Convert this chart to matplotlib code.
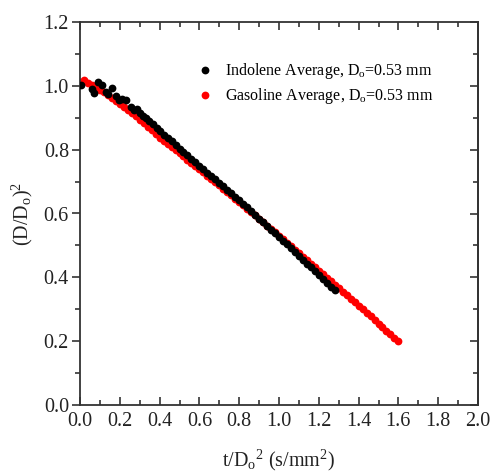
import matplotlib
matplotlib.use("Agg")
import matplotlib.pyplot as plt
from matplotlib.ticker import MultipleLocator

plt.rcParams['font.family'] = ['Liberation Serif', 'DejaVu Serif']
plt.rcParams['mathtext.fontset'] = 'custom'
plt.rcParams['mathtext.rm'] = 'Liberation Serif'
plt.rcParams['mathtext.it'] = 'Liberation Serif:italic'

# Gasoline average (red)
gas_x = [0.00, 0.02, 0.04, 0.06, 0.08, 0.10, 0.12, 0.14, 0.16, 0.18,
         0.20, 0.22, 0.24, 0.26, 0.28, 0.30, 0.32, 0.34, 0.36, 0.38,
         0.40, 0.42, 0.44, 0.46, 0.48, 0.50, 0.52, 0.54, 0.56, 0.58,
         0.60, 0.62, 0.64, 0.66, 0.68, 0.70, 0.72, 0.74, 0.76, 0.78,
         0.80, 0.82, 0.84, 0.86, 0.88, 0.90, 0.92, 0.94, 0.96, 0.98,
         1.00, 1.02, 1.04, 1.06, 1.08, 1.10, 1.12, 1.14, 1.16, 1.18,
         1.20, 1.22, 1.24, 1.26, 1.28, 1.30, 1.32, 1.34, 1.36, 1.38,
         1.40, 1.42, 1.44, 1.46, 1.48, 1.50, 1.52, 1.54, 1.56, 1.58, 1.60]
gas_y = [1.012, 1.018, 1.008, 1.002, 0.995, 0.988, 0.980, 0.971, 0.962, 0.953,
         0.944, 0.934, 0.924, 0.914, 0.904, 0.894, 0.883, 0.872, 0.861, 0.849,
         0.838, 0.828, 0.818, 0.808, 0.799, 0.789, 0.779, 0.769, 0.759, 0.749,
         0.739, 0.729, 0.719, 0.709, 0.698, 0.688, 0.678, 0.667, 0.657, 0.646,
         0.636, 0.626, 0.615, 0.605, 0.594, 0.583, 0.573, 0.562, 0.551, 0.541,
         0.530, 0.519, 0.508, 0.498, 0.487, 0.476, 0.465, 0.454, 0.443, 0.432,
         0.421, 0.410, 0.399, 0.388, 0.377, 0.366, 0.355, 0.344, 0.333, 0.322,
         0.311, 0.300, 0.289, 0.278, 0.266, 0.255, 0.244, 0.233, 0.222, 0.211, 0.200]

# Indolene average (black)
ind_x = [0.003, 0.059, 0.072, 0.092, 0.109, 0.129, 0.139, 0.159, 0.179, 0.196,
         0.213, 0.230, 0.256, 0.271, 0.288, 0.302, 0.317, 0.332, 0.348, 0.365,
         0.385, 0.402, 0.42, 0.44, 0.46, 0.48, 0.50, 0.52, 0.54, 0.56,
         0.58, 0.60, 0.62, 0.64, 0.66, 0.68, 0.70, 0.72, 0.74, 0.76,
         0.78, 0.80, 0.82, 0.84, 0.86, 0.88, 0.90, 0.92, 0.94, 0.96,
         0.98, 1.00, 1.02, 1.04, 1.06, 1.08, 1.10, 1.12, 1.14, 1.16,
         1.18, 1.20, 1.22, 1.24, 1.26, 1.28]
ind_y = [1.003, 0.989, 0.979, 1.011, 1.003, 0.982, 0.974, 0.992, 0.968, 0.955,
         0.960, 0.955, 0.935, 0.924, 0.926, 0.916, 0.906, 0.898, 0.891, 0.879,
         0.867, 0.858, 0.847, 0.836, 0.826, 0.815, 0.803, 0.793, 0.782, 0.771,
         0.761, 0.750, 0.739, 0.728, 0.718, 0.707, 0.696, 0.685, 0.674, 0.663,
         0.652, 0.641, 0.630, 0.619, 0.607, 0.596, 0.584, 0.572, 0.561, 0.549,
         0.538, 0.526, 0.514, 0.503, 0.491, 0.479, 0.467, 0.455, 0.443, 0.431,
         0.419, 0.407, 0.395, 0.383, 0.371, 0.360]

labels = ["Indolene Average, D$_\\mathrm{o}$=0.53 mm",
          "Gasoline Average, D$_\\mathrm{o}$=0.53 mm"]

fig = plt.figure(figsize=(4.91, 4.73), dpi=100)
ax = fig.add_axes([80/491, 68/473, 398/491, 383/473])

ms = 5.6
hg, = ax.plot(gas_x, gas_y, 'o', color='#ff0000', ms=ms, mec='none', zorder=2)
hi, = ax.plot(ind_x, ind_y, 'o', color='#000000', ms=ms, mec='none', zorder=3)

ax.set_xlim(0, 2.0)
ax.set_ylim(0, 1.2)
ax.xaxis.set_major_locator(MultipleLocator(0.2))
ax.xaxis.set_minor_locator(MultipleLocator(0.1))
ax.yaxis.set_major_locator(MultipleLocator(0.2))
ax.yaxis.set_minor_locator(MultipleLocator(0.1))
ax.xaxis.set_major_formatter(matplotlib.ticker.FormatStrFormatter('%.1f'))
ax.yaxis.set_major_formatter(matplotlib.ticker.FormatStrFormatter('%.1f'))

spc = '#333333'
for s in ax.spines.values():
    s.set_color(spc)
    s.set_linewidth(1.3)

ax.tick_params(axis='x', which='both', direction='in', top=True, colors=spc,
               labelcolor='#222222', labelsize=14.5, pad=5)
ax.tick_params(axis='x', which='major', length=6, width=1.2)
ax.tick_params(axis='x', which='minor', length=3.5, width=1.2)
ax.tick_params(axis='y', which='both', direction='out', right=False, colors=spc,
               labelcolor='#222222', labelsize=14.5, pad=2)
ax.tick_params(axis='y', which='major', length=6, width=1.2)
ax.tick_params(axis='y', which='minor', length=3.5, width=1.2)

sec = ax.secondary_yaxis('right')
sec.yaxis.set_major_locator(MultipleLocator(0.2))
sec.yaxis.set_minor_locator(MultipleLocator(0.1))
sec.tick_params(axis='y', which='both', direction='in', labelright=False, colors=spc)
sec.tick_params(axis='y', which='major', length=6, width=1.2)
sec.tick_params(axis='y', which='minor', length=3.5, width=1.2)
sec.spines['right'].set_color(spc)
sec.spines['right'].set_linewidth(1.3)

ax.set_xlabel("t/D$_\\mathrm{o}$$^2$ (s/mm$^2$)", fontsize=14.5, color='#222222', labelpad=12)
ax.set_ylabel("(D/D$_\\mathrm{o}$)$^2$", fontsize=14.5, color='#222222', labelpad=6)

ax.legend([hi, hg], labels, loc='upper left', bbox_to_anchor=(0.259, 0.914),
          frameon=False, fontsize=11.5, handletextpad=0.2, markerscale=1.0,
          labelspacing=0.3, borderaxespad=0)

fig.savefig('out.png', dpi=100)
